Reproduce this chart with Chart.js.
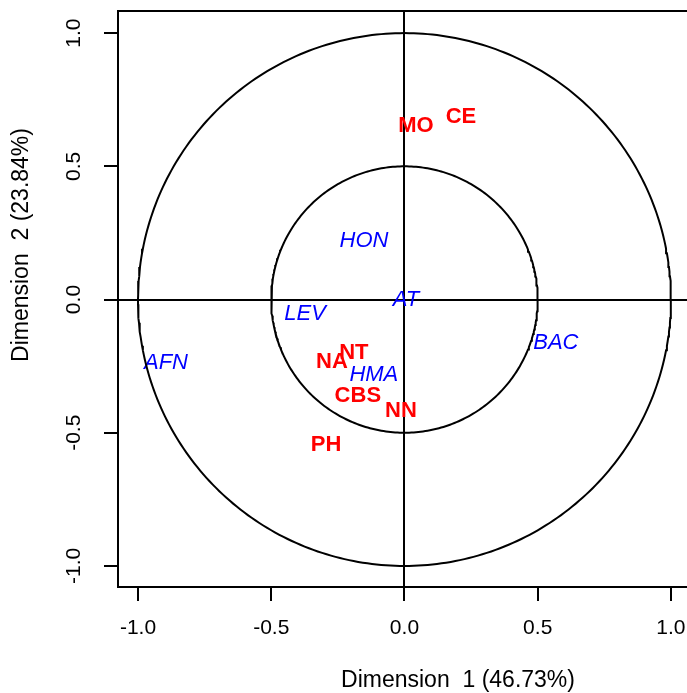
<!DOCTYPE html>
<html>
<head>
<meta charset="utf-8">
<script src="https://cdn.jsdelivr.net/npm/chart.js@4.4.0/dist/chart.umd.min.js"></script>
<style>
  html, body { margin: 0; padding: 0; background: #fff; overflow: hidden; }
  /* the plot frame runs past the right edge, as in the original figure */
  #wrap { width: 687px; height: 693px; overflow: hidden; }
</style>
</head>
<body>
<div id="wrap"><canvas id="pcaChart" width="700" height="693"></canvas></div>
<script>
// ---------- DATA ----------
// active variables (blue, italic)
const activeLabels = ["HON", "AT", "LEV", "AFN", "HMA", "BAC"];
const activeX = [-0.152, 0.006, -0.373, -0.895, -0.115, 0.568];
const activeY = [0.222, 0.0, -0.053, -0.237, -0.282, -0.162];

// supplementary variables (red, bold)
const suppLabels = ["MO", "CE", "NA", "NT", "CBS", "NN", "PH"];
const suppX = [0.043, 0.212, -0.272, -0.19, -0.175, -0.013, -0.294];
const suppY = [0.65, 0.684, -0.233, -0.20, -0.36, -0.417, -0.545];

const circleRadii = [1.0, 0.5];
const tickValues = [-1.0, -0.5, 0.0, 0.5, 1.0];
const xTitle = "Dimension  1 (46.73%)";
const yTitle = "Dimension  2 (23.84%)";

const FONT = '"Liberation Sans", Arial, sans-serif';

// circle outlines (reference circles of the correlation plot)
function circlePoints(r) {
    const pts = [];
    for (let a = 0; a <= 360; a += 1) {
        const t = a * Math.PI / 180;
        pts.push({ x: r * Math.cos(t), y: r * Math.sin(t) });
    }
    return pts;
}

const circleSets = circleRadii.map(r => ({
    type: 'line',
    data: circlePoints(r),
    borderColor: '#000',
    borderWidth: 2,
    pointRadius: 0,
    fill: false,
    tension: 0
}));

const labelSets = [
    {
        data: activeX.map((x, i) => ({ x: x, y: activeY[i] })),
        pointLabels: activeLabels,
        labelColor: '#0000FF',
        labelFont: 'italic 22px ' + FONT,
        pointRadius: 0
    },
    {
        data: suppX.map((x, i) => ({ x: x, y: suppY[i] })),
        pointLabels: suppLabels,
        labelColor: '#FF0000',
        labelFont: 'bold 22px ' + FONT,
        pointRadius: 0
    }
];

// text labels, rotated y ticks, titles and top border
const overlay = {
    id: 'overlay',
    beforeDatasetsDraw(chart) {
        const ctx = chart.ctx;
        ctx.save();
        ctx.textAlign = 'center';
        ctx.textBaseline = 'middle';
        chart.data.datasets.forEach((ds, i) => {
            if (!ds.pointLabels) return;
            ctx.font = ds.labelFont;
            ctx.fillStyle = ds.labelColor;
            chart.getDatasetMeta(i).data.forEach((pt, j) => {
                ctx.fillText(ds.pointLabels[j], pt.x, pt.y);
            });
        });
        ctx.restore();
    },
    afterDraw(chart) {
        const ctx = chart.ctx;
        const area = chart.chartArea;
        const yScale = chart.scales.y;
        ctx.save();
        // top of the box
        ctx.strokeStyle = '#000';
        ctx.lineWidth = 2;
        ctx.beginPath();
        ctx.moveTo(area.left - 1, area.top);
        ctx.lineTo(chart.width, area.top);
        ctx.stroke();

        ctx.fillStyle = '#000';
        ctx.textAlign = 'center';
        ctx.textBaseline = 'middle';
        ctx.font = '21px ' + FONT;
        // y tick labels, parallel to the axis
        tickValues.forEach(v => {
            ctx.save();
            ctx.translate(74, yScale.getPixelForValue(v));
            ctx.rotate(-Math.PI / 2);
            ctx.fillText(v.toFixed(1), 0, 0);
            ctx.restore();
        });
        // axis titles
        ctx.font = '23px ' + FONT;
        ctx.fillText(xTitle, 458, 681);
        ctx.save();
        ctx.translate(22, 245);
        ctx.rotate(-Math.PI / 2);
        ctx.fillText(yTitle, 0, 0);
        ctx.restore();
        ctx.restore();
    }
};

const ctx = document.getElementById("pcaChart").getContext("2d");

window.pcaChart = new Chart(ctx, {
    type: 'scatter',
    data: {
        datasets: circleSets.concat(labelSets)
    },
    options: {
        responsive: false,
        animation: false,
        layout: { padding: { top: 11, right: 0, left: 0, bottom: 0 } },
        plugins: {
            legend: { display: false },
            tooltip: { enabled: false }
        },
        scales: {
            x: {
                type: 'linear',
                min: -1.075,
                max: 1.109,
                afterFit: s => { s.height = 106; s.paddingLeft = 0; s.paddingRight = 0; },
                ticks: {
                    stepSize: 0.5,
                    includeBounds: false,
                    padding: 15,
                    color: '#000',
                    font: { family: FONT, size: 21 },
                    callback: v => Number(v).toFixed(1)
                },
                grid: {
                    color: c => (c.tick && c.tick.value === 0 ? '#000' : 'rgba(0,0,0,0)'),
                    lineWidth: 2,
                    tickColor: '#000',
                    tickLength: 14,
                    tickWidth: 2
                },
                border: { display: true, color: '#000', width: 2 }
            },
            y: {
                type: 'linear',
                min: -1.079,
                max: 1.083,
                afterFit: s => { s.width = 118; s.paddingTop = 0; s.paddingBottom = 0; },
                ticks: {
                    stepSize: 0.5,
                    includeBounds: false,
                    display: false
                },
                grid: {
                    color: c => (c.tick && c.tick.value === 0 ? '#000' : 'rgba(0,0,0,0)'),
                    lineWidth: 2,
                    tickColor: '#000',
                    tickLength: 14,
                    tickWidth: 2
                },
                border: { display: true, color: '#000', width: 2 }
            }
        }
    },
    plugins: [overlay]
});
</script>
</body>
</html>
